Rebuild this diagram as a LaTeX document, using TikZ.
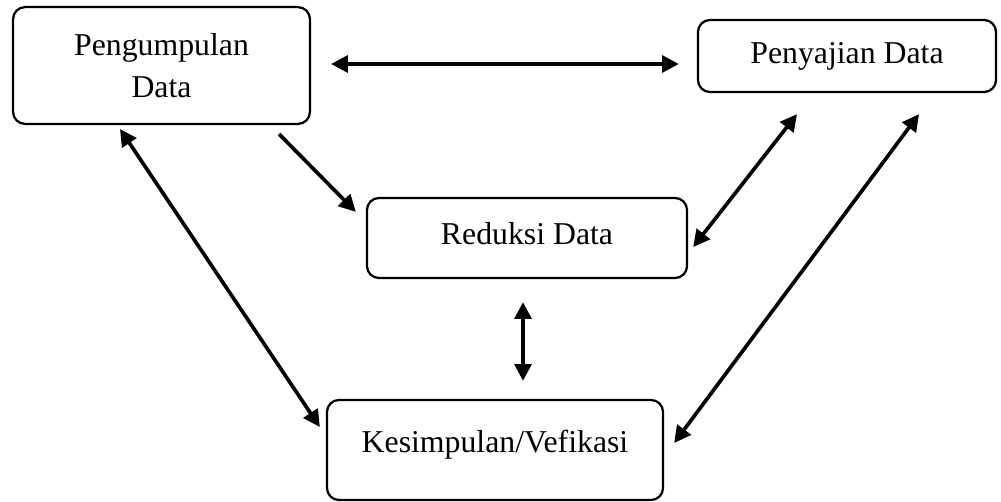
\documentclass[tikz,border=0pt]{standalone}
\usepackage{fontspec}
\setmainfont{Liberation Serif}
\usetikzlibrary{arrows.meta}

\begin{document}
\begin{tikzpicture}[x=0.025cm,y=-0.025cm,>={Triangle[length=0.42cm,width=0.42cm]},
  box/.style={draw,rounded corners=0.3cm,line width=1.6pt,align=center,
    inner sep=0pt,font=\fontsize{22.6}{30}\selectfont},
  link/.style={<->,line width=2.6pt}]
  \useasboundingbox (0,0) rectangle (1001,501);

  \node[box,minimum width=7.42cm,minimum height=2.92cm] (peng) at (161.5,65.5) {Pengumpulan\\Data};
  \node[box,minimum width=7.45cm,minimum height=1.8cm] (peny) at (847,56) {Penyajian Data};
  \node[box,minimum width=8cm,minimum height=2cm,text depth=7pt] (red) at (527,238) {Reduksi Data};
  \node[box,minimum width=8.4cm,minimum height=2.5cm,text depth=12pt] (kes) at (495,450) {Kesimpulan/Vefikasi};

  \draw[link] ([shift={(20,-1.5)}]peng.east) -- ([shift={(-18,8)}]peny.west);
  \draw[link,->] ([shift={(-32,9)}]peng.south east) -- ([shift={(-10,15)}]red.north west);
  \draw[link] ([shift={(5,9)}]red.east) -- ([shift={(-50,21)}]peny.south);
  \draw[link] ([shift={(10,-7)}]kes.east) -- ([shift={(72,21)}]peny.south);
  \draw[link] ([shift={(-4,23)}]red.south) -- ([shift={(28,-18)}]kes.north);
  \draw[link] ([shift={(-41.5,4)}]peng.south) -- ([shift={(-6,-23)}]kes.west);
\end{tikzpicture}
\end{document}
